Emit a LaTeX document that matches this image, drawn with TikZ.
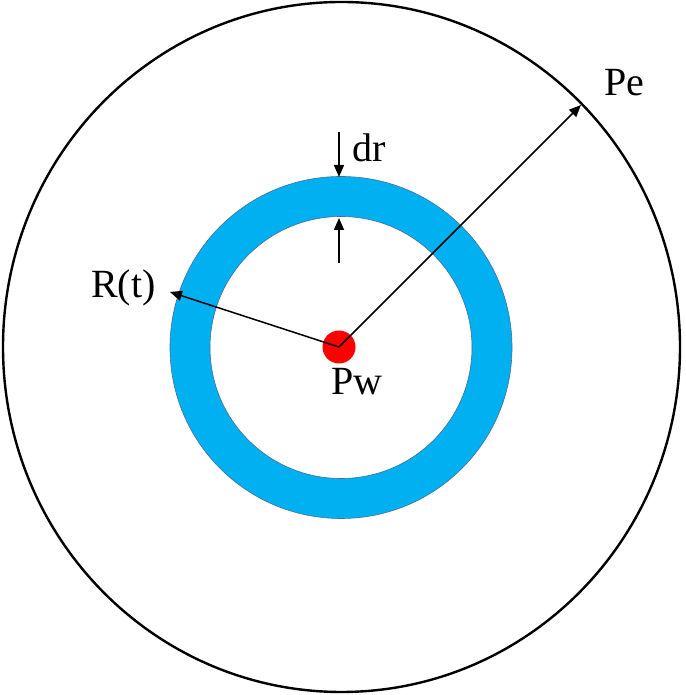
\documentclass[tikz,border=0pt]{standalone}
\usepackage{fontspec}
\setmainfont{Liberation Serif}
\usetikzlibrary{arrows.meta}
\definecolor{ringblue}{RGB}{0,176,240}
\definecolor{ringedge}{RGB}{70,110,150}
\definecolor{dotred}{RGB}{255,0,0}
\tikzset{
  arr/.style={line width=1.5pt, -{Triangle[length=12pt,width=10pt]}},
  lbl/.style={inner sep=0pt, anchor=base west, font=\fontsize{40}{46}\selectfont},
}
\begin{document}
\begin{tikzpicture}[x=1pt,y=1pt]
\useasboundingbox (0,0) rectangle (685,695);
% outer boundary
\draw[line width=2.4pt] (341.5,348) ellipse [x radius=338.5, y radius=345];
% blue ring
\path[fill=ringblue, draw=ringedge, line width=0.6pt, even odd rule]
  (341,347.5) circle [radius=171] (341,347.5) circle [radius=131];
% centre well
\coordinate (c) at (339,348);
\fill[dotred] (c) circle [radius=16.5];
% arrow end points
\coordinate (rt) at (170,403);
\coordinate (pe) at (581,590);
\coordinate (drTopS) at (339,563);
\coordinate (drTopE) at (339,518);
\coordinate (drBotS) at (339,432);
\coordinate (drBotE) at (339,477);
\draw[arr] (c) -- (rt);
\draw[arr] (c) -- (pe);
\draw[arr] (drTopS) -- (drTopE);
\draw[arr] (drBotS) -- (drBotE);
% labels
\node[lbl] (ldr) at (352,533) {dr};
\node[lbl] (lrt) at (91,397) {R(t)};
\node[lbl] (lpe) at (604,599) {Pe};
\node[lbl] (lpw) at (331,300) {Pw};
\end{tikzpicture}
\end{document}
